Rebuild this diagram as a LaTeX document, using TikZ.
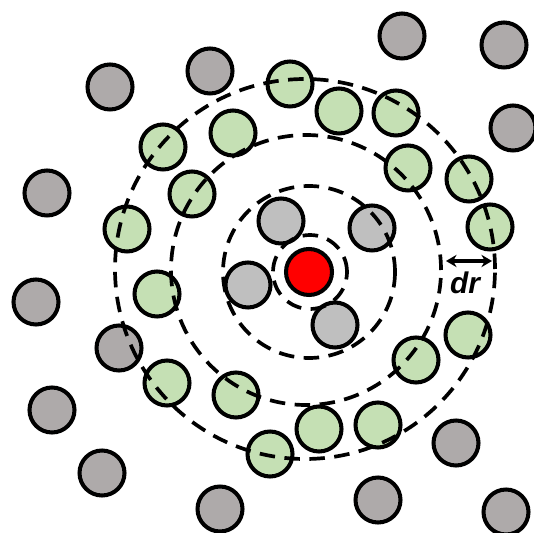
\documentclass[tikz,border=0pt]{standalone}
\usepackage{fontspec}
\setmainfont{Liberation Sans}
\usepackage{tikz}
\usetikzlibrary{arrows.meta}

\definecolor{bulkgray}{HTML}{AEAAAA}
\definecolor{firstgray}{HTML}{BFBFBF}
\definecolor{shellgreen}{HTML}{C5E0B4}

\begin{document}
\begin{tikzpicture}[
		x=0.02cm, y=0.02cm,
		particle/.style={draw, circle, line width=2.3pt, minimum size=0.9cm, inner sep=0pt},
		bulk/.style={particle, fill=bulkgray},
		first/.style={particle, fill=firstgray},
		shell/.style={particle, fill=shellgreen},
		solute/.style={particle, fill=red, minimum size=0.92cm},
		ring/.style={line width=2.1pt, dash pattern=on 0.31cm off 0.19cm},
		arrow/.style={{Stealth[length=6pt,width=7pt]}-{Stealth[length=6pt,width=7pt]}, line width=1.8pt}
		]
		\useasboundingbox (0,0) rectangle (534,-533);
		
		% Bulk particles
		\node[bulk] (b1) at (110,-87) {};
		\node[bulk] (b2) at (210,-71) {};
		\node[bulk] (b3) at (47,-193) {};
		\node[bulk] (b4) at (402,-36) {};
		\node[bulk] (b5) at (504,-45) {};
		\node[bulk] (b6) at (513,-128) {};
		\node[bulk] (b7) at (36,-302) {};
		\node[bulk] (b8) at (119,-348) {};
		\node[bulk] (b9) at (52,-410) {};
		\node[bulk] (b10) at (102,-473) {};
		\node[bulk] (b11) at (220,-509) {};
		\node[bulk] (b12) at (456,-443) {};
		\node[bulk] (b13) at (378,-500) {};
		\node[bulk] (b14) at (506,-512) {};
		
		% Shell particles
		\node[shell] (s1) at (290,-84) {};
		\node[shell] (s2) at (339,-111) {};
		\node[shell] (s3) at (396,-113) {};
		\node[shell] (s4) at (233,-133) {};
		\node[shell] (s5) at (163,-147) {};
		\node[shell] (s6) at (408,-168) {};
		\node[shell] (s7) at (469,-179) {};
		\node[shell] (s8) at (192,-194) {};
		\node[shell] (s9) at (127,-229) {};
		\node[shell] (s10) at (490,-227) {};
		\node[shell] (s11) at (157,-294) {};
		\node[shell] (s12) at (468,-335) {};
		\node[shell] (s13) at (416,-360) {};
		\node[shell] (s14) at (167,-383) {};
		\node[shell] (s15) at (236,-395) {};
		\node[shell] (s16) at (319,-429) {};
		\node[shell] (s17) at (378,-425) {};
		\node[shell] (s18) at (270,-454) {};
		
		% First neighbours and solute
		\node[first] (f1) at (281,-221) {};
		\node[first] (f2) at (372,-228) {};
		\node[first] (f3) at (248,-285) {};
		\node[first] (f4) at (335,-325) {};
		\node[solute] (sol) at (309,-272) {};
		
		% Shells
		\draw[ring] (sol.center) ++(1,0) circle (37);
		\draw[ring] (sol.center) circle (86);
		\draw[ring] (sol.center) ++(-3,2) circle (135);
		\draw[ring] (sol.center) ++(-4,3) circle (190);
		
		% Shell width
		\coordinate (drL) at (446,-261);
		\coordinate (drR) at (492,-261);
		\draw[arrow] (drL) -- (drR);
		\node[font=\fontsize{17}{19}\selectfont\bfseries\itshape] (dr) at (465,-283) {dr};
	\end{tikzpicture}
\end{document}
